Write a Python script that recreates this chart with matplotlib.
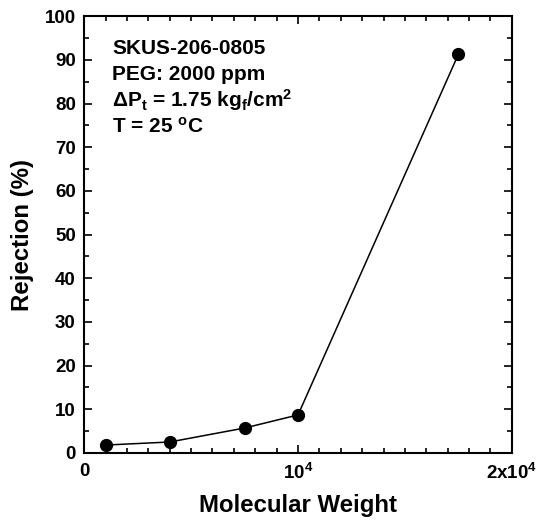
import matplotlib.pyplot as plt
from matplotlib.ticker import MultipleLocator

# data
mol_weight = [1000, 4000, 7500, 10000, 17500]
rejection = [1.8, 2.5, 5.7, 8.7, 91.3]

x_ticks = [0, 10000, 20000]
x_tick_labels = ['0', r'$\mathbf{10^4}$', r'$\mathbf{2x10^4}$']
y_ticks = list(range(0, 101, 10))

plt.rcParams['font.family'] = ['Liberation Sans', 'DejaVu Sans']
plt.rcParams['font.weight'] = 'bold'
plt.rcParams['mathtext.fontset'] = 'custom'
plt.rcParams['mathtext.rm'] = 'Liberation Sans'
plt.rcParams['mathtext.bf'] = 'Liberation Sans:bold'
plt.rcParams['mathtext.it'] = 'Liberation Sans:italic'

fig = plt.figure(figsize=(5.36, 5.23), dpi=100)
ax = fig.add_axes([0.157, 0.134, 0.798, 0.835])

ax.plot(mol_weight, rejection, color='black', lw=1.1, marker='o',
        markersize=8.5, markerfacecolor='black')

ax.set_xlim(0, 20000)
ax.set_ylim(0, 100)
ax.set_xticks(x_ticks)
ax.set_xticklabels(x_tick_labels)
ax.set_yticks(y_ticks)
ax.xaxis.set_minor_locator(MultipleLocator(1000))
ax.yaxis.set_minor_locator(MultipleLocator(5))
ax.tick_params(which='both', direction='in', top=True, right=True,
               labelsize=13.5, width=1.2)
ax.tick_params(axis='x', pad=7)
ax.tick_params(axis='y', pad=6)
ax.tick_params(which='major', length=6)
ax.tick_params(which='minor', length=3.5)
for s in ax.spines.values():
    s.set_linewidth(1.5)

ax.set_xlabel('Molecular Weight', fontsize=17.3, fontweight='bold', labelpad=8)
ax.set_ylabel('Rejection (%)', fontsize=17.3, fontweight='bold', labelpad=8)

lines = ['SKUS-206-0805',
         'PEG: 2000 ppm',
         r'$\mathbf{\Delta P_t}$ = 1.75 kg$_\mathbf{f}$/cm$^\mathbf{2}$',
         r'T = 25 $^\mathbf{o}$C']
for i, t in enumerate(lines):
    ax.text(0.065, 0.927 - i * 0.06, t, transform=ax.transAxes,
            fontsize=15, fontweight='bold', va='center', ha='left')

fig.savefig('out.png', dpi=100)
